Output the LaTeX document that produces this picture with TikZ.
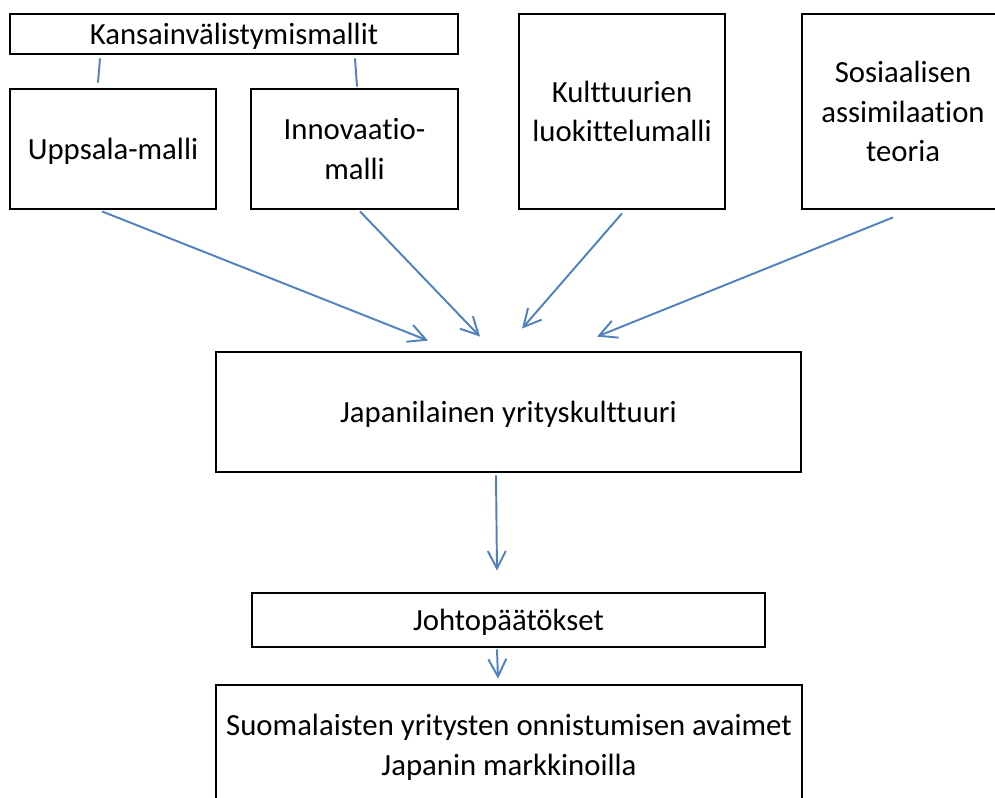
\documentclass[tikz,border=0pt]{standalone}
\usepackage{fontspec}
\setmainfont{Carlito}[Ligatures=NoCommon]
\usetikzlibrary{calc,arrows.meta}
\definecolor{officeblue}{RGB}{79,129,189}

\begin{document}
\begin{tikzpicture}[x=0.02cm,y=-0.02cm,
  box/.style={draw, line width=1.6pt, rectangle, align=center, inner sep=0pt,
    text depth=0pt, font=\fontsize{17.5}{22.5}\selectfont},
  link/.style={officeblue, line width=1.1pt},
  arr/.style={link, -{Straight Barb[length=3.5mm,width=3.6mm,line width=1.1pt]}}]
\useasboundingbox (0,0) rectangle (995,798);

% mallit ylhaalla
\node[box, minimum width=448*0.02cm, minimum height=40*0.02cm] (kansain) at (234,34) {Kansainvälistymismallit};
\node[box, minimum width=206*0.02cm, minimum height=120*0.02cm] (uppsala) at (113,149) {Uppsala-malli};
\node[box, minimum width=207*0.02cm, minimum height=120*0.02cm] (innov) at (354.5,149) {Innovaatio-\\malli};
\node[box, minimum width=206*0.02cm, minimum height=195*0.02cm] (kult) at (622,111.5) {Kulttuurien\\luokittelumalli};
\node[box, minimum width=202*0.02cm, minimum height=195*0.02cm] (sosiaal) at (903,111.5) {Sosiaalisen\\assimilaation\\teoria};

% keskella ja alhaalla
\node[box, minimum width=585*0.02cm, minimum height=120*0.02cm] (japani) at (508.5,412) {Japanilainen yrityskulttuuri};
\node[box, minimum width=513*0.02cm, minimum height=54*0.02cm] (johto) at (508.5,620) {Johtopäätökset};
\node[box, minimum width=586*0.02cm, minimum height=120*0.02cm] (suomi) at (509,745) {Suomalaisten yritysten onnistumisen avaimet\\Japanin markkinoilla};

\draw[link] ($(kansain.south)+(-134,3)$) -- ($(uppsala.north)+(-15,-5)$);
\draw[link] ($(kansain.south)+(121,3)$) -- ($(innov.north)+(2.5,-1)$);

\draw[arr] ($(uppsala.south)+(-11,1)$) -- ($(japani.north)+(-80.5,-10)$);
\draw[arr] ($(innov.south)+(5.5,1)$) -- ($(japani.north)+(-28.5,-14)$);
\draw[arr] ($(kult.south)+(0,3)$) -- ($(japani.north)+(13.5,-22)$);
\draw[arr] ($(sosiaal.south)+(-10,7)$) -- ($(japani.north)+(88.5,-14)$);
\draw[arr] ($(japani.south)+(-12.5,2)$) -- ($(johto.north)+(-11.5,-21)$);
\draw[arr] ($(johto.south)+(-11.5,1)$) -- ($(suomi.north)+(-11,-5)$);
\end{tikzpicture}
\end{document}
